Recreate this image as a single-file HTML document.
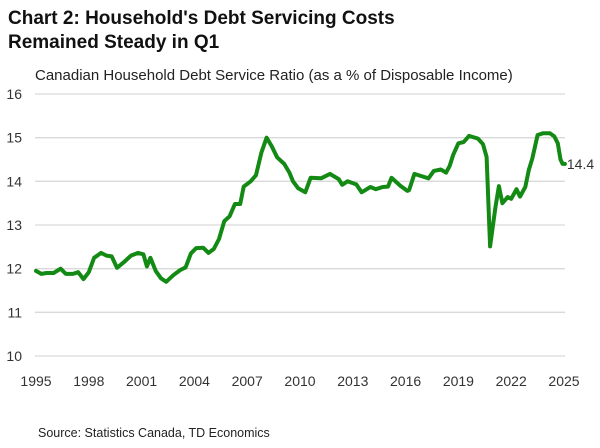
<!DOCTYPE html>
<html><head><meta charset="utf-8"><style>
body{margin:0;background:#fff;}
svg{display:block;font-family:"Liberation Sans",sans-serif;}
</style></head><body>
<svg id="chart" width="600" height="448" viewBox="0 0 600 448">
<text x="8" y="24" font-size="19" font-weight="bold" fill="#111">Chart 2: Household's Debt Servicing Costs</text>
<text x="8" y="48" font-size="19" font-weight="bold" fill="#111">Remained Steady in Q1</text>
<text x="35" y="80" font-size="15" fill="#222">Canadian Household Debt Service Ratio (as a % of Disposable Income)</text>
<g id="grid"></g><g id="yticks"></g><g id="xticks"></g><g id="series"></g>
<text x="38" y="437" font-size="12.5" fill="#222">Source: Statistics Canada, TD Economics</text>
</svg>
<script>
const years=[1995.0,1995.3,1995.6,1996.0,1996.4,1996.7,1997.1,1997.4,1997.7,1998.0,1998.3,1998.7,1999.0,1999.3,1999.6,2000.0,2000.4,2000.8,2001.1,2001.3,2001.5,2001.8,2002.1,2002.4,2002.8,2003.2,2003.5,2003.8,2004.1,2004.5,2004.8,2005.1,2005.4,2005.7,2006.0,2006.3,2006.6,2006.8,2007.2,2007.5,2007.8,2008.1,2008.4,2008.7,2009.1,2009.4,2009.6,2009.9,2010.3,2010.6,2011.2,2011.7,2012.2,2012.4,2012.7,2013.2,2013.5,2014.0,2014.3,2014.7,2015.0,2015.2,2015.7,2016.1,2016.2,2016.5,2016.9,2017.3,2017.6,2018.0,2018.3,2018.5,2018.7,2019.0,2019.3,2019.6,2020.1,2020.4,2020.6,2020.8,2021.1,2021.3,2021.5,2021.8,2022.0,2022.3,2022.5,2022.8,2023.0,2023.2,2023.5,2023.8,2024.2,2024.45,2024.65,2024.8,2024.92,2025.05];
const values=[11.95,11.88,11.9,11.9,12.0,11.88,11.88,11.92,11.76,11.92,12.25,12.36,12.3,12.28,12.02,12.15,12.3,12.36,12.33,12.05,12.25,11.95,11.78,11.7,11.85,11.97,12.03,12.35,12.47,12.48,12.36,12.45,12.68,13.09,13.2,13.48,13.48,13.88,14.0,14.14,14.65,15.0,14.8,14.55,14.4,14.2,14.0,13.84,13.75,14.08,14.07,14.17,14.05,13.92,14.0,13.93,13.75,13.87,13.82,13.87,13.88,14.08,13.9,13.78,13.8,14.17,14.12,14.07,14.24,14.27,14.2,14.35,14.6,14.87,14.9,15.04,14.98,14.85,14.56,12.51,13.4,13.89,13.5,13.64,13.6,13.82,13.65,13.87,14.26,14.52,15.06,15.1,15.1,15.03,14.87,14.5,14.4,14.4];
const yTicks=[10,11,12,13,14,15,16];
const xTicks=[1995,1998,2001,2004,2007,2010,2013,2016,2019,2022,2025];
const lastLabel="14.4";
const NS="http://www.w3.org/2000/svg";
const X=v=>36+(v-1995)*(564-36)/30;
const Y=v=>356-(v-10)*(356-94)/6;
function mk(t,a,p){const e=document.createElementNS(NS,t);for(const k in a)e.setAttribute(k,a[k]);p.appendChild(e);return e;}
const grid=document.getElementById('grid'),yt=document.getElementById('yticks'),xt=document.getElementById('xticks'),sr=document.getElementById('series');
yTicks.forEach(v=>{
 const l=mk('line',{x1:35,x2:565,y1:Y(v),y2:Y(v),stroke:'#d9d9d9','stroke-width':1.3},grid);
 
 
 const t=mk('text',{x:22,y:Y(v)+5,'font-size':14,fill:'#333','text-anchor':'end'},yt);
 t.textContent=v;
 
 
});
xTicks.forEach(v=>{
 const t=mk('text',{x:X(v),y:386,'font-size':14,fill:'#333','text-anchor':'middle'},xt);
 t.textContent=v;
 
 
});
const d=years.map((yr,i)=>(i?'L':'M')+X(yr).toFixed(1)+','+Y(values[i]).toFixed(1)).join(' ');
const p=mk('path',{d:d,fill:'none',stroke:'#138a13','stroke-width':4,'stroke-linejoin':'round','stroke-linecap':'round'},sr);


const n=years.length-1;
const lt=mk('text',{x:X(years[n])+2,y:Y(values[n])+5,'font-size':14,fill:'#333'},sr);
lt.textContent=lastLabel;


</script>
</body></html>
